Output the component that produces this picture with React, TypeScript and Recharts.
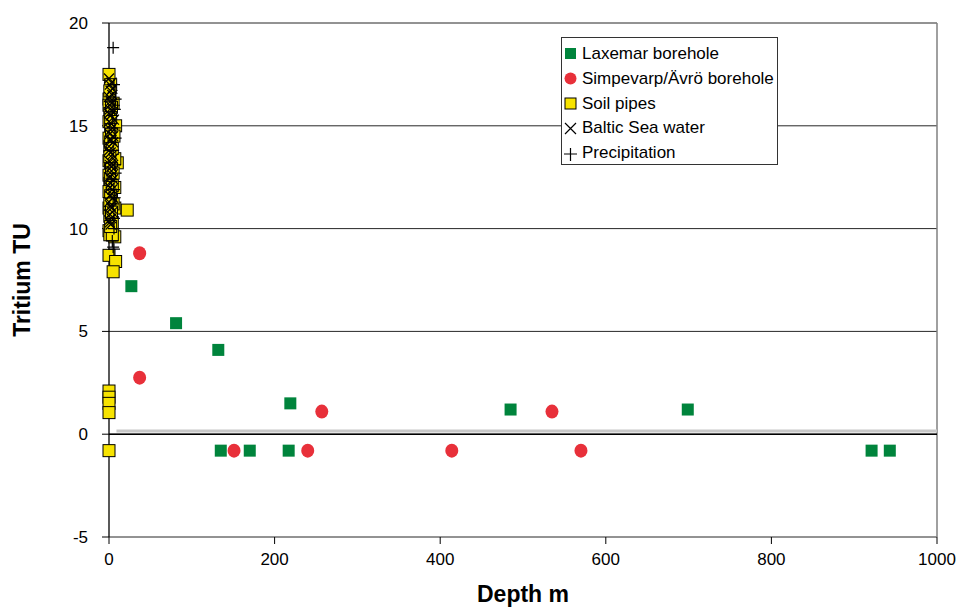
import React from 'react';
import {
    ScatterChart,
    Scatter,
    XAxis,
    YAxis,
    CartesianGrid,
    ReferenceLine,
    Legend,
    Label,
} from 'recharts';

// [depth m, tritium TU]
const laxemar: [number, number][] = [
    [27, 7.2], [81, 5.4], [132, 4.1], [219, 1.5], [485, 1.2], [699, 1.2],
    [135, -0.8], [170, -0.8], [217, -0.8], [921, -0.8], [943, -0.8],
];

const simpevarp: [number, number][] = [
    [37, 8.8], [37, 2.75], [257, 1.1], [535, 1.1],
    [151, -0.8], [240, -0.8], [414, -0.8], [570, -0.8],
];

const soilPipes: [number, number][] = [
    [0, 17.5], [0, 16.3], [0, 16.0], [1, 15.6], [0, 15.2], [2, 14.8], [0, 14.4], [1, 14.0],
    [3, 13.7], [0, 13.3], [2, 13.0], [0, 12.6], [1, 12.2], [0, 11.8], [3, 11.4], [0, 11.0],
    [1, 10.6], [4, 10.3], [0, 9.9], [10, 13.2], [8, 15.0], [5, 16.1], [7, 12.0], [22, 10.9],
    [7, 11.0], [5, 11.2], [7, 9.6], [1, 9.7], [4, 9.7], [0, 8.7], [8, 8.4], [5, 7.9],
    [7, 13.4], [2, 17.0], [1, 16.7], [3, 15.9], [2, 15.4], [3, 14.6], [2, 14.2], [4, 13.9],
    [1, 13.5], [3, 12.9], [2, 12.4], [4, 12.1], [2, 11.6], [1, 11.2], [3, 10.8], [2, 10.1],
    [6, 14.5], [5, 12.7], [0, 2.1], [0, 1.8], [0, 1.5], [0, 1.05], [0, -0.8],
];

const balticSea: [number, number][] = [
    [0, 17.3], [1, 17.0], [2, 16.7], [0, 16.4], [3, 16.1], [1, 15.8], [2, 15.5], [0, 15.2],
    [4, 14.9], [1, 14.6], [3, 14.3], [0, 14.0], [2, 13.7], [5, 13.4], [1, 13.1], [3, 12.8],
    [0, 12.5], [2, 12.2], [4, 11.9], [1, 11.6], [0, 11.3], [3, 11.0], [1, 10.7], [0, 10.4],
    [2, 10.2], [4, 12.6], [5, 14.2], [0, 13.8], [6, 15.3], [2, 16.2],
    [3, 17.1], [4, 16.5], [1, 16.0], [5, 15.7], [3, 15.1], [2, 14.8], [5, 14.5], [1, 14.3],
    [4, 13.6], [0, 13.3], [3, 13.0], [5, 12.4], [1, 12.0], [3, 11.7], [5, 11.5], [2, 11.1],
    [4, 10.8], [3, 10.5], [1, 10.3], [5, 13.1], [4, 16.8], [0, 15.6],
];

const precipitation: [number, number][] = [
    [5, 18.8], [6, 16.0], [4, 15.5], [7, 14.9], [8, 14.4], [5, 13.8], [7, 13.1], [8, 12.7],
    [6, 11.9], [5, 11.2], [6, 10.5], [4, 9.4], [5, 9.1], [6, 9.0], [3, 12.3], [7, 15.8],
    [6, 17.0], [8, 16.3], [7, 11.5], [6, 10.0],
];

// grey line just above zero
const detectionLimit: [number, number][] = [[9, 0.16], [1000, 0.16]];

const xTicks = [0, 200, 400, 600, 800, 1000];
const yTicks = [-5, 0, 5, 10, 15, 20];

const GREEN = '#00843c';
const RED = '#e8303a';
const YELLOW = '#f7e300';
const FONT = '"Liberation Sans", Arial, sans-serif';

const toPoints = (rows: [number, number][]) => rows.map(([x, y]) => ({ x, y }));

const SquareMark = ({ cx, cy, fill, stroke }: any) => (
    <rect x={cx - 6} y={cy - 6} width={12} height={12} fill={fill} stroke={stroke} strokeWidth={stroke ? 1 : 0} />
);

const CircleMark = ({ cx, cy }: any) => <ellipse cx={cx} cy={cy} rx={6.5} ry={7} fill={RED} />;

const XMark = ({ cx, cy }: any) => (
    <path
        d={`M${cx - 5},${cy - 5}L${cx + 5},${cy + 5}M${cx + 5},${cy - 5}L${cx - 5},${cy + 5}`}
        stroke="#000"
        strokeWidth={1.2}
        fill="none"
    />
);

const PlusMark = ({ cx, cy }: any) => (
    <path
        d={`M${cx - 6},${cy}L${cx + 6},${cy}M${cx},${cy - 6}L${cx},${cy + 6}`}
        stroke="#000"
        strokeWidth={1.2}
        fill="none"
    />
);

const legendItems = [
    { name: 'Laxemar borehole', icon: <rect x={2} y={2} width={11} height={11} fill={GREEN} /> },
    { name: 'Simpevarp/Ävrö borehole', icon: <circle cx={7.5} cy={7.5} r={6} fill={RED} /> },
    { name: 'Soil pipes', icon: <rect x={2} y={3} width={11} height={11} fill={YELLOW} stroke="#000" /> },
    { name: 'Baltic Sea water', icon: <path d="M2,3L13,14M13,3L2,14" stroke="#000" strokeWidth={1.2} /> },
    { name: 'Precipitation', icon: <path d="M1,9L14,9M7.5,3L7.5,16" stroke="#000" strokeWidth={1.2} /> },
];

const LegendBox = () => (
    <div
        style={{
            border: '1px solid #333',
            background: '#fff',
            width: 217,
            height: 128,
            boxSizing: 'border-box',
            padding: '4px 0 0 1px',
            fontFamily: FONT,
            fontSize: 17,
            color: '#000',
        }}
    >
        {legendItems.map((it) => (
            <div key={it.name} style={{ display: 'flex', alignItems: 'center', height: 24.7, whiteSpace: 'nowrap' }}>
                <svg width={16} height={17} style={{ marginRight: 3 }}>
                    {it.icon}
                </svg>
                <span>{it.name}</span>
            </div>
        ))}
    </div>
);

const YTitle = ({ viewBox }: any) => {
    const x = viewBox.x + 22;
    const y = viewBox.y + viewBox.height / 2;
    return (
        <text
            x={x}
            y={y}
            transform={`rotate(-90, ${x}, ${y})`}
            textAnchor="middle"
            dominantBaseline="central"
            fontFamily={FONT}
            fontSize={23}
            fontWeight="bold"
            fill="#000"
        >
            Tritium TU
        </text>
    );
};

export default function App() {
    const tickStyle = { fill: '#000', fontSize: 17, fontFamily: FONT };
    return (
        <div style={{ position: 'absolute', left: 0, top: 0, width: 958, height: 608, background: '#fff' }}>
            <ScatterChart width={958} height={608} margin={{ top: 23, right: 21, bottom: 0, left: 0 }}>
                <CartesianGrid horizontal vertical={false} stroke="#000" strokeWidth={1} strokeOpacity={0.85} />
                <XAxis
                    type="number"
                    dataKey="x"
                    domain={[0, 1000]}
                    ticks={xTicks}
                    interval={0}
                    height={71}
                    axisLine={false}
                    tickLine={{ stroke: '#000' }}
                    tickSize={7}
                    tickMargin={9}
                    tick={tickStyle}
                >
                    <Label
                        value="Depth m"
                        position="insideBottom"
                        offset={6}
                        style={{ fontFamily: FONT, fontSize: 23, fontWeight: 'bold', fill: '#000' }}
                    />
                </XAxis>
                <YAxis
                    type="number"
                    dataKey="y"
                    domain={[-5, 20]}
                    ticks={yTicks}
                    interval={0}
                    width={109}
                    axisLine={{ stroke: '#000', strokeWidth: 1.3 }}
                    tickLine={{ stroke: '#000' }}
                    tickSize={7}
                    tickMargin={14}
                    tick={tickStyle}
                >
                    <Label content={<YTitle />} />
                </YAxis>
                <ReferenceLine x={1000} stroke="#808080" strokeWidth={1.5} />
                <ReferenceLine
                    segment={detectionLimit.map(([x, y]) => ({ x, y }))}
                    stroke="#c8c8c8"
                    strokeWidth={3}
                />
                <ReferenceLine y={0} stroke="#000" strokeWidth={1.6} />
                <Legend
                    layout="horizontal"
                    verticalAlign="middle"
                    align="center"
                    content={<LegendBox />}
                    wrapperStyle={{ left: 561, top: 37, width: 217, height: 128 }}
                />
                <Scatter name="Laxemar borehole" data={toPoints(laxemar)} fill={GREEN} shape={SquareMark} isAnimationActive={false} />
                <Scatter name="Simpevarp/Ävrö borehole" data={toPoints(simpevarp)} fill={RED} shape={CircleMark} isAnimationActive={false} />
                <Scatter
                    name="Soil pipes"
                    data={toPoints(soilPipes)}
                    fill={YELLOW}
                    stroke="#000"
                    shape={(p: any) => <SquareMark {...p} fill={YELLOW} stroke="#000" />}
                    isAnimationActive={false}
                />
                <Scatter name="Baltic Sea water" data={toPoints(balticSea)} fill="#000" shape={XMark} isAnimationActive={false} />
                <Scatter name="Precipitation" data={toPoints(precipitation)} fill="#000" shape={PlusMark} isAnimationActive={false} />
            </ScatterChart>
        </div>
    );
}
